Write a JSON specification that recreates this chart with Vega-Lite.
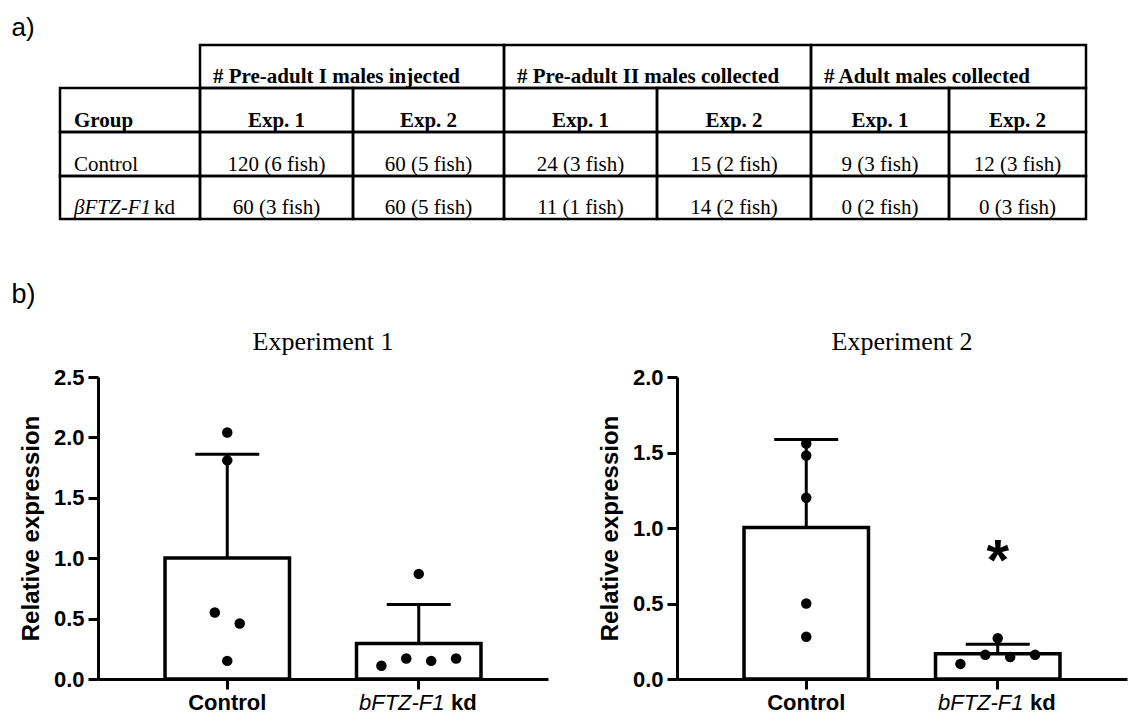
{
  "$schema": "https://vega.github.io/schema/vega-lite/v6.json",
  "autosize": {"type": "pad"},
  "padding": {"left": 11, "top": 14, "right": 2, "bottom": 2},
  "background": "white",
  "title": {"text": "a)", "anchor": "start", "font": "Liberation Sans", "fontSize": 26, "fontWeight": "normal", "color": "black", "offset": 3, "dx": 0},
  "datasets": {
    "expr": [
      {"exp": "Experiment 1", "group": "Control", "value": 2.04, "slot": "e"},
      {"exp": "Experiment 1", "group": "Control", "value": 1.81, "slot": "e"},
      {"exp": "Experiment 1", "group": "Control", "value": 0.55, "slot": "d"},
      {"exp": "Experiment 1", "group": "Control", "value": 0.46, "slot": "f"},
      {"exp": "Experiment 1", "group": "Control", "value": 0.15, "slot": "e"},
      {"exp": "Experiment 1", "group": "bFTZ-F1 kd", "value": 0.87, "slot": "e"},
      {"exp": "Experiment 1", "group": "bFTZ-F1 kd", "value": 0.11, "slot": "b"},
      {"exp": "Experiment 1", "group": "bFTZ-F1 kd", "value": 0.17, "slot": "d"},
      {"exp": "Experiment 1", "group": "bFTZ-F1 kd", "value": 0.15, "slot": "f"},
      {"exp": "Experiment 1", "group": "bFTZ-F1 kd", "value": 0.17, "slot": "h"},
      {"exp": "Experiment 2", "group": "Control", "value": 1.56, "slot": "e"},
      {"exp": "Experiment 2", "group": "Control", "value": 1.48, "slot": "e"},
      {"exp": "Experiment 2", "group": "Control", "value": 1.20, "slot": "e"},
      {"exp": "Experiment 2", "group": "Control", "value": 0.50, "slot": "e"},
      {"exp": "Experiment 2", "group": "Control", "value": 0.28, "slot": "e"},
      {"exp": "Experiment 2", "group": "bFTZ-F1 kd", "value": 0.10, "slot": "b"},
      {"exp": "Experiment 2", "group": "bFTZ-F1 kd", "value": 0.16, "slot": "d"},
      {"exp": "Experiment 2", "group": "bFTZ-F1 kd", "value": 0.27, "slot": "e"},
      {"exp": "Experiment 2", "group": "bFTZ-F1 kd", "value": 0.145, "slot": "f"},
      {"exp": "Experiment 2", "group": "bFTZ-F1 kd", "value": 0.16, "slot": "h"}
    ],
    "table": [
      {"r": 0, "c0": 1, "c1": 3, "kind": "header", "text": "# Pre-adult I males injected"},
      {"r": 0, "c0": 3, "c1": 5, "kind": "header", "text": "# Pre-adult II males collected"},
      {"r": 0, "c0": 5, "c1": 7, "kind": "header", "text": "# Adult males collected"},
      {"r": 1, "c0": 0, "c1": 1, "kind": "rowhead", "text": "Group"},
      {"r": 1, "c0": 1, "c1": 2, "kind": "sub", "text": "Exp. 1"},
      {"r": 1, "c0": 2, "c1": 3, "kind": "sub", "text": "Exp. 2"},
      {"r": 1, "c0": 3, "c1": 4, "kind": "sub", "text": "Exp. 1"},
      {"r": 1, "c0": 4, "c1": 5, "kind": "sub", "text": "Exp. 2"},
      {"r": 1, "c0": 5, "c1": 6, "kind": "sub", "text": "Exp. 1"},
      {"r": 1, "c0": 6, "c1": 7, "kind": "sub", "text": "Exp. 2"},
      {"r": 2, "c0": 0, "c1": 1, "kind": "group", "text": "Control"},
      {"r": 2, "c0": 1, "c1": 2, "kind": "value", "text": "120 (6 fish)"},
      {"r": 2, "c0": 2, "c1": 3, "kind": "value", "text": "60 (5 fish)"},
      {"r": 2, "c0": 3, "c1": 4, "kind": "value", "text": "24 (3 fish)"},
      {"r": 2, "c0": 4, "c1": 5, "kind": "value", "text": "15 (2 fish)"},
      {"r": 2, "c0": 5, "c1": 6, "kind": "value", "text": "9 (3 fish)"},
      {"r": 2, "c0": 6, "c1": 7, "kind": "value", "text": "12 (3 fish)"},
      {"r": 3, "c0": 0, "c1": 1, "kind": "group", "gene": "βFTZ-F1", "text": "kd"},
      {"r": 3, "c0": 1, "c1": 2, "kind": "value", "text": "60 (3 fish)"},
      {"r": 3, "c0": 2, "c1": 3, "kind": "value", "text": "60 (5 fish)"},
      {"r": 3, "c0": 3, "c1": 4, "kind": "value", "text": "11 (1 fish)"},
      {"r": 3, "c0": 4, "c1": 5, "kind": "value", "text": "14 (2 fish)"},
      {"r": 3, "c0": 5, "c1": 6, "kind": "value", "text": "0 (2 fish)"},
      {"r": 3, "c0": 6, "c1": 7, "kind": "value", "text": "0 (3 fish)"}
    ]
  },
  "spacing": 60,
  "vconcat": [
    {
      "width": 988,
      "height": 174,
      "data": {"name": "table"},
      "transform": [
        {"calculate": "datum.r + 1", "as": "r1"},
        {"calculate": "(datum.c0 + datum.c1) / 2", "as": "cm"}
      ],
      "layer": [
        {
          "mark": {"type": "rect", "filled": false, "stroke": "black", "strokeWidth": 2.5},
          "encoding": {
            "x": {"field": "c0", "type": "quantitative", "axis": null, "scale": {"domain": [0, 1, 2, 3, 4, 5, 6, 7], "range": [-38, 102, 255, 406, 559, 713, 851, 988], "nice": false, "zero": false}},
            "x2": {"field": "c1"},
            "y": {"field": "r", "type": "quantitative", "axis": null, "scale": {"domain": [0, 1, 2, 3, 4], "range": [0, 43, 87, 131, 174], "nice": false, "zero": false}},
            "y2": {"field": "r1"}
          }
        },
        {
          "transform": [{"filter": "datum.kind === 'header'"}],
          "mark": {"type": "text", "align": "left", "baseline": "alphabetic", "dx": 13, "dy": -5, "font": "Liberation Serif", "fontSize": 21, "fontWeight": "bold", "color": "black"},
          "encoding": {
            "x": {"field": "c0", "type": "quantitative", "axis": null},
            "y": {"field": "r1", "type": "quantitative", "axis": null},
            "text": {"field": "text"}
          }
        },
        {
          "transform": [{"filter": "datum.kind === 'rowhead'"}],
          "mark": {"type": "text", "align": "left", "baseline": "alphabetic", "dx": 14, "dy": -5, "font": "Liberation Serif", "fontSize": 21, "fontWeight": "bold", "color": "black"},
          "encoding": {
            "x": {"field": "c0", "type": "quantitative", "axis": null},
            "y": {"field": "r1", "type": "quantitative", "axis": null},
            "text": {"field": "text"}
          }
        },
        {
          "transform": [{"filter": "datum.kind === 'sub'"}],
          "mark": {"type": "text", "align": "center", "baseline": "alphabetic", "dy": -5, "font": "Liberation Serif", "fontSize": 21, "fontWeight": "bold", "color": "black"},
          "encoding": {
            "x": {"field": "cm", "type": "quantitative", "axis": null},
            "y": {"field": "r1", "type": "quantitative", "axis": null},
            "text": {"field": "text"}
          }
        },
        {
          "transform": [{"filter": "datum.kind === 'value'"}],
          "mark": {"type": "text", "align": "center", "baseline": "alphabetic", "dy": -5, "font": "Liberation Serif", "fontSize": 21, "fontWeight": "normal", "color": "black"},
          "encoding": {
            "x": {"field": "cm", "type": "quantitative", "axis": null},
            "y": {"field": "r1", "type": "quantitative", "axis": null},
            "text": {"field": "text"}
          }
        },
        {
          "transform": [{"filter": "datum.kind === 'group' && !datum.gene"}],
          "mark": {"type": "text", "align": "left", "baseline": "alphabetic", "dx": 14, "dy": -5, "font": "Liberation Serif", "fontSize": 21, "fontWeight": "normal", "color": "black"},
          "encoding": {
            "x": {"field": "c0", "type": "quantitative", "axis": null},
            "y": {"field": "r1", "type": "quantitative", "axis": null},
            "text": {"field": "text"}
          }
        },
        {
          "transform": [{"filter": "datum.kind === 'group' && datum.gene"}],
          "mark": {"type": "text", "align": "left", "baseline": "alphabetic", "dx": 14, "dy": -5, "font": "Liberation Serif", "fontSize": 21, "fontStyle": "italic", "color": "black"},
          "encoding": {
            "x": {"field": "c0", "type": "quantitative", "axis": null},
            "y": {"field": "r1", "type": "quantitative", "axis": null},
            "text": {"field": "gene"}
          }
        },
        {
          "transform": [{"filter": "datum.kind === 'group' && datum.gene"}],
          "mark": {"type": "text", "align": "left", "baseline": "alphabetic", "dx": 94, "dy": -5, "font": "Liberation Serif", "fontSize": 21, "color": "black"},
          "encoding": {
            "x": {"field": "c0", "type": "quantitative", "axis": null},
            "y": {"field": "r1", "type": "quantitative", "axis": null},
            "text": {"field": "text"}
          }
        }
      ]
    },
    {
      "title": {"text": "b)", "anchor": "start", "font": "Liberation Sans", "fontSize": 27, "fontWeight": "normal", "color": "black", "offset": 20, "dx": -8},
      "spacing": 50,
      "hconcat": [
        {
          "title": {"text": "Experiment 1", "font": "Liberation Serif", "fontSize": 26, "fontWeight": "normal", "color": "black", "anchor": "middle", "frame": "group", "offset": 11},
          "width": 450,
          "height": 302,
          "data": {"name": "expr"},
          "transform": [{"filter": "datum.exp === 'Experiment 1'"}],
          "resolve": {"scale": {"x": "independent", "xOffset": "independent"}, "axis": {"x": "independent"}},
          "layer": [
            {
              "transform": [
                {"aggregate": [{"op": "mean", "field": "value", "as": "mean"}, {"op": "stdev", "field": "value", "as": "sd"}], "groupby": ["group"]},
                {"calculate": "datum.mean + datum.sd", "as": "hi"}
              ],
              "mark": {"type": "rule", "strokeWidth": 3, "color": "black"},
              "encoding": {
                "x": {"field": "group", "type": "nominal", "axis": null, "scale": {"type": "band", "domain": ["Control", "bFTZ-F1 kd"], "paddingInner": 0.35, "paddingOuter": 0.35}},
                "y": {"field": "mean", "type": "quantitative", "title": "Relative expression", "scale": {"domain": [0, 2.5], "nice": false}, "axis": {"values": [0, 0.5, 1, 1.5, 2, 2.5], "format": ".1f"}},
                "y2": {"field": "hi"}
              }
            },
            {
              "transform": [
                {"aggregate": [{"op": "mean", "field": "value", "as": "mean"}], "groupby": ["group"]}
              ],
              "mark": {"type": "bar", "fill": "white", "stroke": "black", "strokeWidth": 3.5},
              "encoding": {
                "x": {"field": "group", "type": "nominal", "scale": {"type": "band", "domain": ["Control", "bFTZ-F1 kd"], "paddingInner": 0.35, "paddingOuter": 0.35},
                  "axis": {"orient": "bottom", "title": null, "labelAngle": 0,
                    "labelExpr": "datum.value == 'Control' ? 'Control' : 'bFTZ-F1'",
                    "labelFontStyle": {"condition": {"test": "datum.value == 'Control'", "value": "normal"}, "value": "italic"},
                    "labelFontWeight": {"condition": {"test": "datum.value == 'Control'", "value": "bold"}, "value": "normal"},
                    "labelOffset": {"condition": {"test": "datum.value == 'Control'", "value": 0}, "value": -17}}},
                "y": {"field": "mean", "type": "quantitative", "title": "Relative expression", "scale": {"domain": [0, 2.5], "nice": false}, "axis": {"values": [0, 0.5, 1, 1.5, 2, 2.5], "format": ".1f"}}
              }
            },
            {
              "transform": [
                {"aggregate": [{"op": "mean", "field": "value", "as": "mean"}, {"op": "stdev", "field": "value", "as": "sd"}], "groupby": ["group"]},
                {"calculate": "datum.mean + datum.sd", "as": "hi"}
              ],
              "mark": {"type": "tick", "orient": "horizontal", "size": 64, "thickness": 3, "color": "black", "opacity": 1},
              "encoding": {
                "x": {"field": "group", "type": "nominal", "scale": {"type": "band", "domain": ["Control", "bFTZ-F1 kd"], "paddingInner": 0.35, "paddingOuter": 0.35},
                  "axis": {"orient": "bottom", "title": null, "labelAngle": 0, "domain": false, "tickOpacity": 0,
                    "labelExpr": "datum.value == 'Control' ? '' : 'kd'", "labelFontWeight": "bold", "labelOffset": 45}},
                "y": {"field": "hi", "type": "quantitative", "title": "Relative expression", "scale": {"domain": [0, 2.5], "nice": false}, "axis": {"values": [0, 0.5, 1, 1.5, 2, 2.5], "format": ".1f"}}
              }
            },
            {
              "mark": {"type": "point", "shape": "circle", "filled": true, "color": "black", "opacity": 1, "size": 110},
              "encoding": {
                "x": {"field": "group", "type": "nominal", "axis": null, "scale": {"type": "band", "domain": ["Control", "bFTZ-F1 kd"], "paddingInner": 0.35, "paddingOuter": 0.35}},
                "xOffset": {"field": "slot", "type": "nominal", "scale": {"type": "point", "domain": ["a", "b", "c", "d", "e", "f", "g", "h", "i"], "padding": 1}},
                "y": {"field": "value", "type": "quantitative", "title": "Relative expression", "scale": {"domain": [0, 2.5], "nice": false}, "axis": {"values": [0, 0.5, 1, 1.5, 2, 2.5], "format": ".1f"}}
              }
            }
          ]
        },
        {
          "title": {"text": "Experiment 2", "font": "Liberation Serif", "fontSize": 26, "fontWeight": "normal", "color": "black", "anchor": "middle", "frame": "group", "offset": 11},
          "width": 450,
          "height": 302,
          "data": {"name": "expr"},
          "transform": [{"filter": "datum.exp === 'Experiment 2'"}],
          "resolve": {"scale": {"x": "independent", "xOffset": "independent"}, "axis": {"x": "independent"}},
          "layer": [
            {
              "transform": [
                {"aggregate": [{"op": "mean", "field": "value", "as": "mean"}, {"op": "stdev", "field": "value", "as": "sd"}], "groupby": ["group"]},
                {"calculate": "datum.mean + datum.sd", "as": "hi"}
              ],
              "mark": {"type": "rule", "strokeWidth": 3, "color": "black"},
              "encoding": {
                "x": {"field": "group", "type": "nominal", "axis": null, "scale": {"type": "band", "domain": ["Control", "bFTZ-F1 kd"], "paddingInner": 0.35, "paddingOuter": 0.35}},
                "y": {"field": "mean", "type": "quantitative", "title": "Relative expression", "scale": {"domain": [0, 2], "nice": false}, "axis": {"values": [0, 0.5, 1, 1.5, 2], "format": ".1f"}},
                "y2": {"field": "hi"}
              }
            },
            {
              "transform": [
                {"aggregate": [{"op": "mean", "field": "value", "as": "mean"}], "groupby": ["group"]}
              ],
              "mark": {"type": "bar", "fill": "white", "stroke": "black", "strokeWidth": 3.5},
              "encoding": {
                "x": {"field": "group", "type": "nominal", "scale": {"type": "band", "domain": ["Control", "bFTZ-F1 kd"], "paddingInner": 0.35, "paddingOuter": 0.35},
                  "axis": {"orient": "bottom", "title": null, "labelAngle": 0,
                    "labelExpr": "datum.value == 'Control' ? 'Control' : 'bFTZ-F1'",
                    "labelFontStyle": {"condition": {"test": "datum.value == 'Control'", "value": "normal"}, "value": "italic"},
                    "labelFontWeight": {"condition": {"test": "datum.value == 'Control'", "value": "bold"}, "value": "normal"},
                    "labelOffset": {"condition": {"test": "datum.value == 'Control'", "value": 0}, "value": -17}}},
                "y": {"field": "mean", "type": "quantitative", "title": "Relative expression", "scale": {"domain": [0, 2], "nice": false}, "axis": {"values": [0, 0.5, 1, 1.5, 2], "format": ".1f"}}
              }
            },
            {
              "transform": [
                {"aggregate": [{"op": "mean", "field": "value", "as": "mean"}, {"op": "stdev", "field": "value", "as": "sd"}], "groupby": ["group"]},
                {"calculate": "datum.mean + datum.sd", "as": "hi"}
              ],
              "mark": {"type": "tick", "orient": "horizontal", "size": 64, "thickness": 3, "color": "black", "opacity": 1},
              "encoding": {
                "x": {"field": "group", "type": "nominal", "scale": {"type": "band", "domain": ["Control", "bFTZ-F1 kd"], "paddingInner": 0.35, "paddingOuter": 0.35},
                  "axis": {"orient": "bottom", "title": null, "labelAngle": 0, "domain": false, "tickOpacity": 0,
                    "labelExpr": "datum.value == 'Control' ? '' : 'kd'", "labelFontWeight": "bold", "labelOffset": 45}},
                "y": {"field": "hi", "type": "quantitative", "title": "Relative expression", "scale": {"domain": [0, 2], "nice": false}, "axis": {"values": [0, 0.5, 1, 1.5, 2], "format": ".1f"}}
              }
            },
            {
              "mark": {"type": "point", "shape": "circle", "filled": true, "color": "black", "opacity": 1, "size": 110},
              "encoding": {
                "x": {"field": "group", "type": "nominal", "axis": null, "scale": {"type": "band", "domain": ["Control", "bFTZ-F1 kd"], "paddingInner": 0.35, "paddingOuter": 0.35}},
                "xOffset": {"field": "slot", "type": "nominal", "scale": {"type": "point", "domain": ["a", "b", "c", "d", "e", "f", "g", "h", "i"], "padding": 1}},
                "y": {"field": "value", "type": "quantitative", "title": "Relative expression", "scale": {"domain": [0, 2], "nice": false}, "axis": {"values": [0, 0.5, 1, 1.5, 2], "format": ".1f"}}
              }
            },
            {
              "data": {"values": [{"group": "bFTZ-F1 kd", "sig": "*", "level": 0.83}]},
              "mark": {"type": "text", "font": "Liberation Sans", "fontSize": 58, "fontWeight": "bold", "color": "black", "baseline": "middle", "align": "center", "dy": 9},
              "encoding": {
                "x": {"field": "group", "type": "nominal", "axis": null, "scale": {"type": "band", "domain": ["Control", "bFTZ-F1 kd"], "paddingInner": 0.35, "paddingOuter": 0.35}},
                "y": {"field": "level", "type": "quantitative", "title": "Relative expression", "scale": {"domain": [0, 2], "nice": false}, "axis": {"values": [0, 0.5, 1, 1.5, 2], "format": ".1f"}},
                "text": {"field": "sig"}
              }
            }
          ]
        }
      ]
    }
  ],
  "config": {
    "view": {"stroke": null},
    "axis": {"grid": false, "domainColor": "black", "domainWidth": 3, "tickColor": "black", "tickWidth": 3, "tickSize": 10, "labelColor": "black", "labelFont": "Liberation Sans", "labelFontSize": 22, "labelPadding": 3, "titleColor": "black", "titleFont": "Liberation Sans", "titleFontSize": 24, "titleFontWeight": "bold"},
    "axisY": {"labelFontWeight": "bold", "labelPadding": 4, "titlePadding": 10}
  }
}
